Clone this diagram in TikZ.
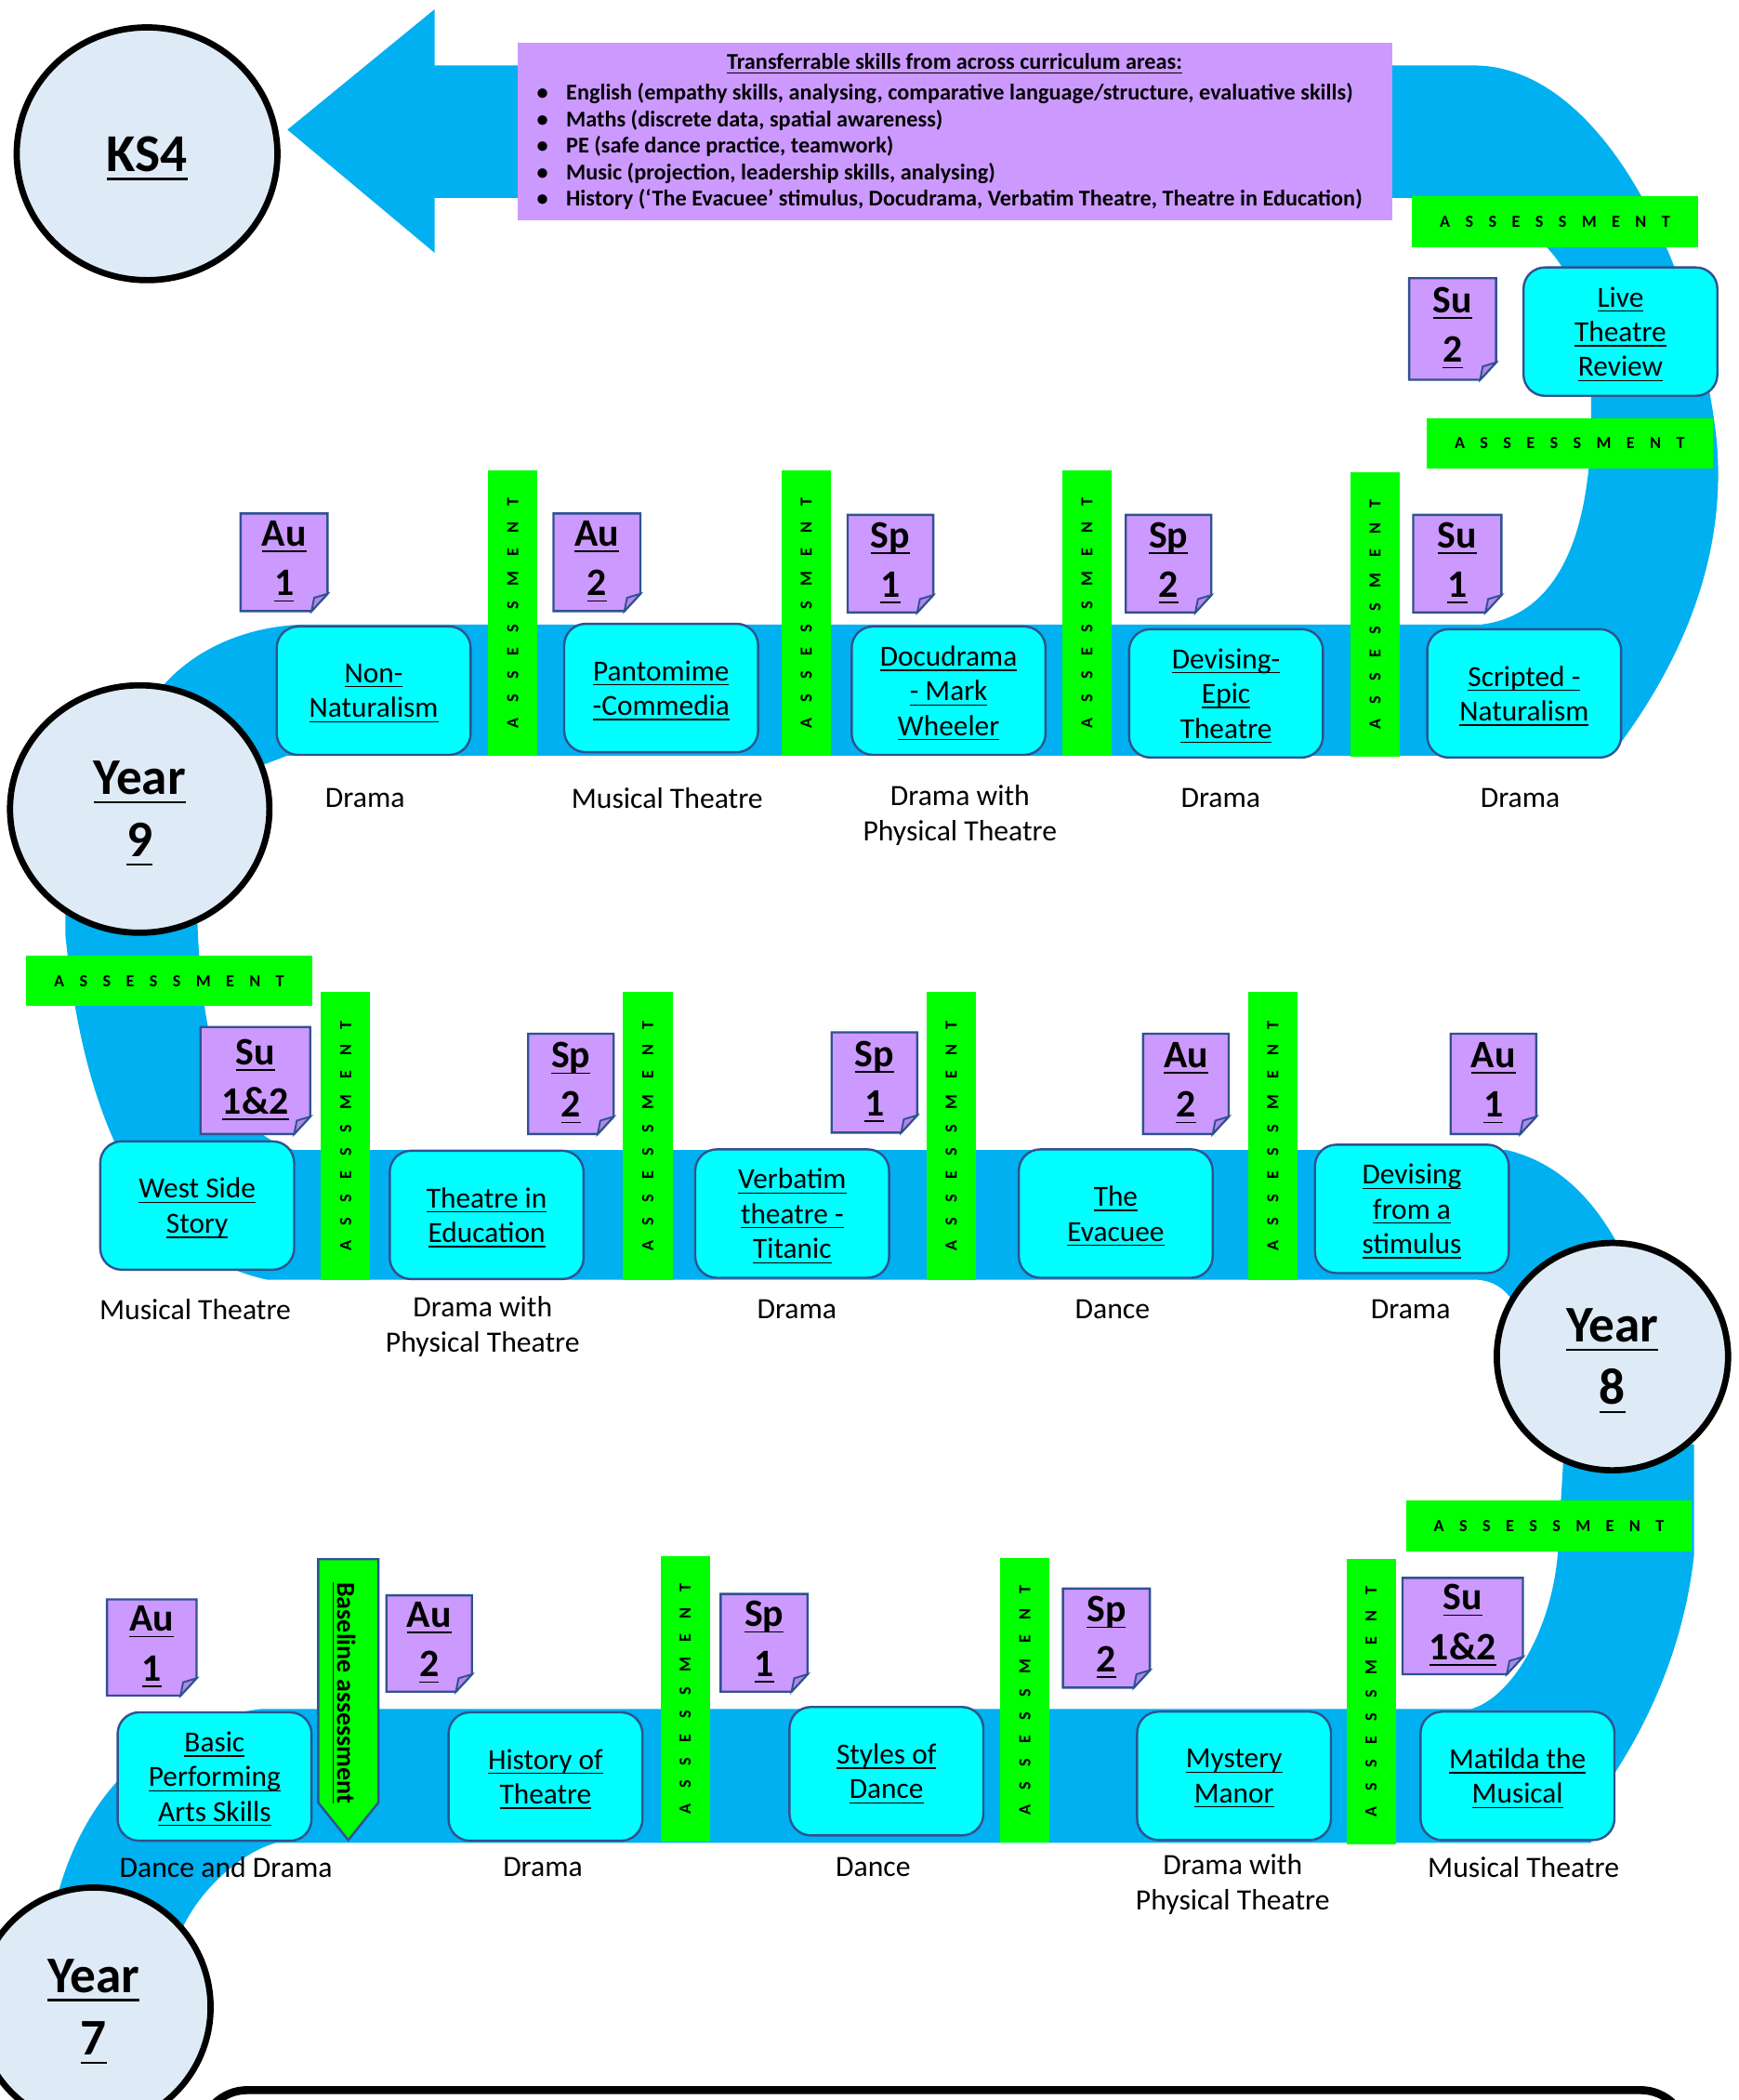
\documentclass[tikz,border=0pt]{standalone}
\usepackage{amsmath}
\usepackage{fontspec}
\setmainfont{Carlito}
\usetikzlibrary{positioning,shapes.geometric}

\definecolor{bandblue}{RGB}{0,176,240}
\definecolor{topiccyan}{RGB}{0,255,255}
\definecolor{edgeblue}{RGB}{47,82,143}
\definecolor{termpurple}{RGB}{204,153,255}
\definecolor{termfold}{RGB}{178,135,232}
\definecolor{assessgreen}{RGB}{0,255,0}
\definecolor{yearfill}{RGB}{222,235,247}

\newcommand{\lnk}[1]{\smash[b]{\underline{\smash[b]{#1}}}}
\newcommand{\assess}{A\hskip.9em S\hskip.9em S\hskip.9em E\hskip.9em S\hskip.9em S\hskip.9em M\hskip.9em E\hskip.9em N\hskip.9em T}
% term note with folded corner: name, left, top, right, bottom, text
\newcommand{\termnote}[6]{%
  \filldraw[notebox] (#2,#3) -- (#4,#3) -- (#4,#5-13) -- (#4-12,#5) -- (#2,#5) -- cycle;
  \filldraw[notefold] (#4,#5-13) -- (#4-12,#5) -- (#4-10,#5-10) -- cycle;
  \node[termtext] (#1) at ({(#2+#4)/2},{(#3+#5)/2-3}) {#6};}

\begin{document}
\begin{tikzpicture}[x=0.15mm, y=-0.15mm,
    yearring/.style={ellipse, draw=black, line width=0.7mm, fill=yearfill, inner sep=0, align=center, font=\bfseries\fontsize{16.4}{20}\selectfont},
    topic/.style={draw=edgeblue, line width=0.25mm, fill=topiccyan, rounded corners=2.4mm, minimum width=21.75mm, minimum height=14.4mm, inner sep=0, align=center, font=\fontsize{9.3}{11.1}\selectfont},
    notebox/.style={fill=termpurple, draw=edgeblue, line width=0.25mm},
    notefold/.style={fill=termfold, draw=edgeblue, line width=0.2mm},
    termtext/.style={inner sep=0, align=center, font=\bfseries\fontsize{12.4}{15.8}\selectfont},
    assessv/.style={fill=assessgreen, rotate=90, minimum width=31.95mm, minimum height=5.55mm, inner sep=0, font=\bfseries\fontsize{5.4}{6}\selectfont},
    assessh/.style={fill=assessgreen, minimum width=32.1mm, minimum height=5.7mm, inner sep=0, font=\bfseries\fontsize{5.4}{6}\selectfont},
    subject/.style={align=center, inner sep=0, font=\fontsize{9.4}{11.3}\selectfont},
    skilllist/.style={align=left, inner sep=0, font=\bfseries\fontsize{7.2}{8.43}\selectfont}
]
\useasboundingbox (0,0) rectangle (1300,1570.4);
\clip (0,0) rectangle (1300,1570.4);

% the road: arrow to KS4, loop and Year 9 row
\fill[bandblue] (215,97) -- (325,7) -- (325,49) -- (1105,49)
  .. controls (1200,52) and (1270,200) .. (1284,330)
  .. controls (1292,420) and (1255,500) .. (1205,565)
  -- (215,565) -- (150,590) -- (120,515)
  .. controls (145,485) and (185,468) .. (228,467)
  -- (1108,467)
  .. controls (1165,460) and (1192,400) .. (1190,300)
  .. controls (1190,220) and (1170,150) .. (1050,148)
  -- (325,148) -- (325,189) -- cycle;
% Year 9 down to Year 8 row
\fill[bandblue] (49,660) -- (147,660) .. controls (148,790) and (170,845) .. (220,860)
  -- (1127,860) .. controls (1160,868) and (1190,890) .. (1215,940)
  -- (1180,1000) -- (1131,972) .. controls (1125,964) and (1118,958) .. (1105,957)
  -- (200,957) .. controls (120,940) and (65,860) .. (49,700) -- cycle;
% Year 8 down to Year 7 row
\fill[bandblue] (1170,1080) -- (1267,1080) -- (1267,1163)
  .. controls (1262,1210) and (1245,1270) .. (1205,1330)
  -- (1190,1378) -- (207,1378)
  .. controls (185,1383) and (150,1410) .. (135,1445)
  -- (40,1430) .. controls (55,1360) and (100,1290) .. (195,1278)
  -- (1100,1278) .. controls (1130,1270) and (1160,1220) .. (1165,1163)
  -- cycle;

% year circles
\node[yearring, minimum width=29.25mm, minimum height=28.35mm, font=\bfseries\fontsize{17}{20}\selectfont] (ks4) at (110,115) {\lnk{KS4}};
\node[yearring, minimum width=29.1mm, minimum height=27.75mm] (y9) at (104.5,605) {\lnk{Year}\\\lnk{9}};
\node[yearring, minimum width=25.95mm, minimum height=25.5mm] (y8) at (1206,1014.5) {\lnk{Year}\\\lnk{8}};
\node[yearring, minimum width=26.25mm, minimum height=26.85mm] (y7) at (70,1501) {\lnk{Year}\\\lnk{7}};

% transferable skills
\node[fill=termpurple, minimum width=98.1mm, minimum height=19.95mm] (skills) at (714,98.5) {};
\node[inner sep=0, font=\bfseries\fontsize{7.2}{8}\selectfont] (skillshead) at (714,46) {\lnk{Transferrable skills from across curriculum areas:}};
\node[skilllist, anchor=west] (skilllist) at (401,109.5) {%
  \makebox[3.3mm][l]{\textbullet}English (empathy skills, analysing, comparative language/structure, evaluative skills)\\
  \makebox[3.3mm][l]{\textbullet}Maths (discrete data, spatial awareness)\\
  \makebox[3.3mm][l]{\textbullet}PE (safe dance practice, teamwork)\\
  \makebox[3.3mm][l]{\textbullet}Music (projection, leadership skills, analysing)\\
  \makebox[3.3mm][l]{\textbullet}History (`The Evacuee' stimulus, Docudrama, Verbatim Theatre, Theatre in Education)};

% assessment bars
\node[assessh] (ah1) at (1163,166) {\assess};
\node[assessh] (ah2) at (1174,331.5) {\assess};
\node[assessh] (ah3) at (126.5,733.5) {\assess};
\node[assessh] (ah4) at (1158.5,1141) {\assess};
\node[assessv] (av91) at (383.5,458.5) {\assess};
\node[assessv] (av92) at (603,458.5) {\assess};
\node[assessv] (av93) at (813,458.5) {\assess};
\node[assessv] (av94) at (1028.5,459.5) {\assess};
\node[assessv, minimum width=32.25mm] (av81) at (258.5,849.5) {\assess};
\node[assessv, minimum width=32.25mm] (av82) at (484.5,849.5) {\assess};
\node[assessv, minimum width=32.25mm] (av83) at (711.5,849.5) {\assess};
\node[assessv, minimum width=32.25mm] (av84) at (952,849.5) {\assess};
\node[assessv] (av71) at (512.5,1270.5) {\assess};
\node[assessv] (av72) at (766.5,1271.5) {\assess};
\node[assessv] (av73) at (1025.5,1272.5) {\assess};
\filldraw[fill=assessgreen, draw=edgeblue, line width=0.25mm] (238,1166) -- (283,1166) -- (283,1348) -- (260.5,1376) -- (238,1348) -- cycle;
\node[rotate=-90, inner sep=0, font=\bfseries\fontsize{8.3}{10}\selectfont] (baseline) at (259,1266) {\lnk{Baseline assessment}};

% topics
\node[topic] (livereview) at (1212,248) {\lnk{Live}\\\lnk{Theatre}\\\lnk{Review}};
\node[topic] (nonnat) at (279.5,516.5) {\lnk{Non-}\\\lnk{Naturalism}};
\node[topic] (panto) at (494.5,514.5) {\lnk{Pantomime}\\\lnk{-Commedia}};
\node[topic] (docu) at (709.5,516.5) {\lnk{Docudrama}\\\lnk{- Mark}\\\lnk{Wheeler}};
\node[topic] (epic) at (917,518.5) {\lnk{Devising-}\\\lnk{Epic}\\\lnk{Theatre}};
\node[topic] (scripted) at (1140,518.5) {\lnk{Scripted -}\\\lnk{Naturalism}};
\node[topic] (westside) at (147.5,901.5) {\lnk{West Side}\\\lnk{Story}};
\node[topic] (tie) at (364,908.5) {\lnk{Theatre in}\\\lnk{Education}};
\node[topic] (verbatim) at (592.5,907.5) {\lnk{Verbatim}\\\lnk{theatre -}\\\lnk{Titanic}};
\node[topic] (evacuee) at (834.5,907.5) {\lnk{The}\\\lnk{Evacuee}};
\node[topic] (stimulus) at (1056,904) {\lnk{Devising}\\\lnk{from a}\\\lnk{stimulus}};
\node[topic] (basic) at (160.5,1328.5) {\lnk{Basic}\\\lnk{Performing}\\\lnk{Arts Skills}};
\node[topic] (history) at (408,1328.5) {\lnk{History of}\\\lnk{Theatre}};
\node[topic] (styles) at (663,1324.5) {\lnk{Styles of}\\\lnk{Dance}};
\node[topic] (mystery) at (923,1328) {\lnk{Mystery}\\\lnk{Manor}};
\node[topic] (matilda) at (1135,1328) {\lnk{Matilda the}\\\lnk{Musical}};

% terms
\termnote{tsu2}{1054}{208}{1119}{284}{\lnk{Su}\\\lnk{2}}
\termnote{t9au1}{180}{384}{245}{457}{\lnk{Au}\\\lnk{1}}
\termnote{t9au2}{414}{384}{479}{457}{\lnk{Au}\\\lnk{2}}
\termnote{t9sp1}{634}{385}{698}{458}{\lnk{Sp}\\\lnk{1}}
\termnote{t9sp2}{842}{385}{906}{458}{\lnk{Sp}\\\lnk{2}}
\termnote{t9su1}{1057}{385}{1123}{458}{\lnk{Su}\\\lnk{1}}
\termnote{t8su12}{150}{768}{232}{848}{\lnk{Su}\\\lnk{1\&2}}
\termnote{t8sp2}{395}{773}{459}{848}{\lnk{Sp}\\\lnk{2}}
\termnote{t8sp1}{622}{772}{686}{847}{\lnk{Sp}\\\lnk{1}}
\termnote{t8au2}{855}{773}{919}{848}{\lnk{Au}\\\lnk{2}}
\termnote{t8au1}{1085}{773}{1149}{848}{\lnk{Au}\\\lnk{1}}
\termnote{t7au1}{80}{1196}{147}{1268}{\lnk{Au}\\\lnk{1}}
\termnote{t7au2}{289}{1193}{353}{1265}{\lnk{Au}\\\lnk{2}}
\termnote{t7sp1}{539}{1192}{604}{1265}{\lnk{Sp}\\\lnk{1}}
\termnote{t7sp2}{795}{1188}{860}{1262}{\lnk{Sp}\\\lnk{2}}
\termnote{t7su12}{1049}{1180}{1139}{1252}{\lnk{Su}\\\lnk{1\&2}}

% subjects
\node[subject] (s91) at (273,597) {Drama};
\node[subject] (s92) at (499,597) {Musical Theatre};
\node[subject] (s93) at (718,610) {Drama with\\Physical Theatre};
\node[subject] (s94) at (913,597) {Drama};
\node[subject] (s95) at (1137,597) {Drama};
\node[subject] (s81) at (146,979) {Musical Theatre};
\node[subject] (s82) at (361,992) {Drama with\\Physical Theatre};
\node[subject] (s83) at (596,979) {Drama};
\node[subject] (s84) at (832,979) {Dance};
\node[subject] (s85) at (1055,979) {Drama};
\node[subject] (s71) at (169,1396) {Dance and Drama};
\node[subject] (s72) at (406,1396) {Drama};
\node[subject] (s73) at (653,1396) {Dance};
\node[subject] (s74) at (922,1409) {Drama with\\Physical Theatre};
\node[subject] (s75) at (1139.5,1396) {Musical Theatre};

% box cut off at the bottom
\draw[line width=0.9mm, rounded corners=5.25mm] (150,1660) rectangle (1262,1563);
\end{tikzpicture}
\end{document}
